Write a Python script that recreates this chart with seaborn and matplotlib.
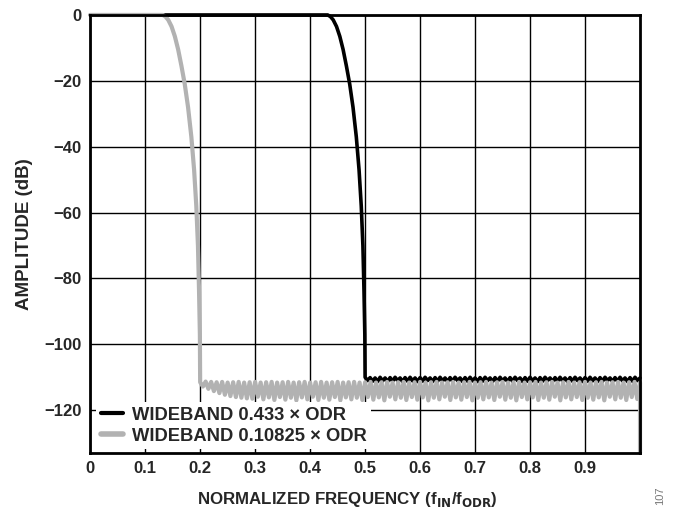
import matplotlib
matplotlib.use("Agg")
import matplotlib.pyplot as plt
import numpy as np
import pandas as pd
import seaborn as sns

# Passband / transition vertices
black_f = [0.0, 0.432, 0.437, 0.442, 0.448, 0.454, 0.460, 0.466, 0.472, 0.478,
           0.484, 0.489, 0.493, 0.496, 0.498, 0.4995, 0.5]
black_a = [0.0, 0.0, -0.5, -1.5, -3.5, -6.5, -10.5, -15.5, -21.0, -28.0,
           -37.0, -47.0, -58.0, -70.0, -84.0, -97.0, -110.0]
gray_f = [0.0, 0.132, 0.137, 0.142, 0.148, 0.154, 0.160, 0.166, 0.172, 0.178,
          0.184, 0.189, 0.193, 0.196, 0.198, 0.1995, 0.2]
gray_a = [0.0, 0.0, -0.5, -1.5, -3.5, -6.5, -10.5, -15.5, -21.0, -28.0,
          -37.0, -47.0, -58.0, -70.0, -84.0, -97.0, -111.5]

# Stopband ripple (0.5..1.0 for black, 0.2..1.0 for gray)
black_peaks = [-110.1, -110.2, -110.0, -110.2, -110.1, -110.0, -110.2, -110.1, -110.0, -110.2,
               -110.1, -110.0, -110.2, -110.1, -110.0, -110.2, -110.1, -110.0, -110.2, -110.1,
               -110.0, -110.2, -110.1, -110.0, -110.2, -110.1, -110.0, -110.2, -110.1, -110.0,
               -110.2, -110.1, -110.0, -110.2, -110.1, -110.0, -110.2, -110.1, -110.0, -110.2,
               -110.1, -110.0, -110.2, -110.1, -110.0, -110.2, -110.1, -110.0, -110.2, -110.1,
               -110.0, -110.2, -110.1, -110.0, -110.2]
black_troughs = [-111.0, -111.2, -111.3, -111.1, -111.3, -111.2, -111.0, -111.3, -111.2, -111.1,
                 -111.3, -111.2, -111.0, -111.3, -111.2, -111.1, -111.3, -111.2, -111.0, -111.3,
                 -111.2, -111.1, -111.3, -111.2, -111.0, -111.3, -111.2, -111.1, -111.3, -111.2,
                 -111.0, -111.3, -111.2, -111.1, -111.3, -111.2, -111.0, -111.3, -111.2, -111.1,
                 -111.3, -111.2, -111.0, -111.3, -111.2, -111.1, -111.3, -111.2, -111.0, -111.3,
                 -111.2, -111.1, -111.3, -111.2, -111.0]
gray_peaks = [-111.3, -111.4, -111.5, -111.4, -111.6, -111.5, -111.4, -111.6, -111.5, -111.4,
              -111.6, -111.5, -111.4, -111.6, -111.5, -111.4, -111.6, -111.5, -111.4, -111.6,
              -111.5, -111.4, -111.6, -111.5, -111.4, -111.6, -111.5, -111.4, -111.6, -111.5,
              -111.4, -111.6, -111.5, -111.4, -111.6, -111.5, -111.4, -111.6, -111.5, -111.4,
              -111.6, -111.5, -111.4, -111.6, -111.5, -111.4, -111.6, -111.5, -111.4, -111.6,
              -111.5, -111.4, -111.6, -111.5, -111.4, -111.6, -111.5, -111.4, -111.6, -111.5,
              -111.4, -111.6, -111.5, -111.4, -111.6, -111.5, -111.4, -111.6, -111.5, -111.4,
              -111.6, -111.5, -111.4, -111.6, -111.5, -111.4, -111.6, -111.5, -111.4, -111.6]
gray_troughs = [-112.8, -113.5, -114.2, -114.8, -115.3, -115.7, -116.0, -116.2, -116.4, -116.5,
                -115.9, -116.7, -116.1, -116.9, -116.0, -116.8, -116.2, -117.0, -116.1, -116.7,
                -115.9, -116.9, -116.2, -116.8, -116.0, -117.0, -116.1, -116.7, -116.2, -116.9,
                -116.0, -116.8, -116.1, -117.0, -115.9, -116.7, -116.2, -116.9, -116.0, -116.8,
                -116.1, -117.0, -116.2, -116.7, -115.9, -116.9, -116.1, -116.8, -116.0, -117.0,
                -116.2, -116.7, -116.1, -116.9, -115.9, -116.8, -116.2, -117.0, -116.0, -116.7,
                -116.1, -116.9, -116.2, -116.8, -115.9, -117.0, -116.1, -116.7, -116.0, -116.9,
                -116.2, -116.8, -116.1, -117.0, -115.9, -116.7, -116.2, -116.9, -116.0, -116.6]
gray_end = -133.0

labels = ["WIDEBAND 0.433 × ODR", "WIDEBAND 0.10825 × ODR"]
x_ticks = [0, 0.1, 0.2, 0.3, 0.4, 0.5, 0.6, 0.7, 0.8, 0.9]
y_ticks = [0, -20, -40, -60, -80, -100, -120]


def ripple(f0, f1, peaks, troughs):
    vals = []
    for p, t in zip(peaks, troughs):
        vals += [t, p]
    f = np.linspace(f0, f1, len(vals) + 1)[1:]
    return list(f), vals


bf, ba = ripple(0.5, 1.0, black_peaks, black_troughs)
gf, ga = ripple(0.2, 1.0, gray_peaks, gray_troughs)

df = pd.concat([
    pd.DataFrame({"f": black_f + bf, "a": black_a + ba, "s": labels[0]}),
    pd.DataFrame({"f": gray_f + gf + [1.0], "a": gray_a + ga + [gray_end], "s": labels[1]}),
], ignore_index=True)

sns.set_style("white")
plt.rcParams["font.family"] = ["Liberation Sans", "DejaVu Sans"]
plt.rcParams["font.weight"] = "bold"

fig = plt.figure(figsize=(6.73, 5.16), dpi=100)
ax = fig.add_axes([0.134, 0.122, 0.817, 0.849])

ax.grid(True, color="black", linewidth=1.0)
ax.set_axisbelow(True)

sns.lineplot(data=df, x="f", y="a", hue="s", palette=["black", "#b2b2b2"],
             sort=False, estimator=None, units="s", ax=ax, legend=False)
lines = ax.get_lines()
lines[0].set_linewidth(2.6)
lines[1].set_linewidth(3.0)
for ln in lines:
    ln.set_solid_joinstyle("round")
    ln.set_clip_on(False)

ax.set_xlim(0, 1.0)
ax.set_ylim(-133, 0)
ax.set_xticks(x_ticks)
ax.set_xticklabels([f"{v:g}" for v in x_ticks])
ax.set_yticks(y_ticks)
ax.tick_params(length=0, labelsize=12, pad=6)
for lab in ax.get_xticklabels() + ax.get_yticklabels():
    lab.set_fontweight("bold")

for sp in ax.spines.values():
    sp.set_linewidth(2.0)
    sp.set_color("black")

ax.set_xlabel(r"NORMALIZED FREQUENCY (f$_{\mathbf{IN}}$/f$_{\mathbf{ODR}}$)",
              fontsize=12.2, fontweight="bold")
ax.xaxis.set_label_coords(0.468, -0.085)
ax.set_ylabel("AMPLITUDE (dB)", fontsize=13.5, fontweight="bold", labelpad=8)

handles = [plt.Line2D([], [], color="black", lw=3),
           plt.Line2D([], [], color="#b2b2b2", lw=4)]
leg = ax.legend(handles, labels, loc="lower left", frameon=True, fancybox=False,
                handlelength=1.2, handletextpad=0.5, borderpad=0.25,
                labelspacing=0.2, prop={"weight": "bold", "size": 13.2},
                bbox_to_anchor=(-0.006, -0.012))
leg.get_frame().set_edgecolor("none")
leg.get_frame().set_facecolor("white")
leg.get_frame().set_alpha(1.0)

fig.text(0.981, 0.04, "107", rotation=90, fontsize=8, color="#777777",
         ha="center", va="center", fontweight="normal")

plt.savefig("out.png", dpi=100)
